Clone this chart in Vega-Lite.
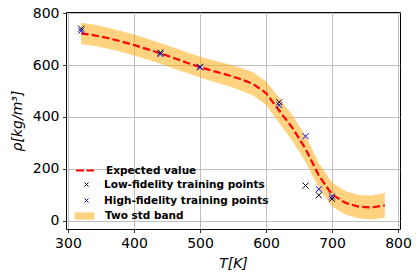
{
  "$schema": "https://vega.github.io/schema/vega-lite/v6.json",
  "width": 334,
  "height": 217,
  "autosize": "none",
  "padding": {"left": 66, "top": 12, "right": 18, "bottom": 50},
  "background": "white",
  "config": {
    "view": {"stroke": "black", "strokeWidth": 1},
    "font": "DejaVu Sans",
    "axis": {
      "domain": false, "grid": true, "gridColor": "#b0b0b0", "gridWidth": 0.8,
      "tickColor": "black", "tickSize": 3.5, "tickWidth": 0.8,
      "labelFontSize": 14, "labelColor": "black", "labelPadding": 3.5,
      "titleFontSize": 14, "titleFontWeight": "normal", "titleFontStyle": "italic", "titleColor": "black",
      "labelFlush": false, "labelOverlap": false
    },
    "legend": {
      "title": null, "orient": "none", "legendX": 12.5, "symbolSize": 100,
      "labelFontSize": 10.5, "labelFontWeight": "bold", "labelColor": "black", "labelFont": "DejaVu Sans",
      "labelOffset": 14.5, "labelLimit": 400, "padding": 0
    }
  },
  "datasets": {
    "curve": [
      {"T": 320, "mean": 722, "lo": 681, "hi": 763},
      {"T": 340, "mean": 714, "lo": 673, "hi": 755},
      {"T": 360, "mean": 704, "lo": 664, "hi": 744},
      {"T": 380, "mean": 691, "lo": 651, "hi": 731},
      {"T": 400, "mean": 677, "lo": 637, "hi": 717},
      {"T": 420, "mean": 661, "lo": 621, "hi": 701},
      {"T": 440, "mean": 645, "lo": 605, "hi": 685},
      {"T": 460, "mean": 627, "lo": 587, "hi": 667},
      {"T": 480, "mean": 609, "lo": 569, "hi": 649},
      {"T": 500, "mean": 592, "lo": 552, "hi": 632},
      {"T": 520, "mean": 577, "lo": 536, "hi": 618},
      {"T": 540, "mean": 563, "lo": 521, "hi": 605},
      {"T": 560, "mean": 547, "lo": 504, "hi": 590},
      {"T": 580, "mean": 528, "lo": 484, "hi": 572},
      {"T": 600, "mean": 492, "lo": 446, "hi": 538},
      {"T": 620, "mean": 425, "lo": 377, "hi": 473},
      {"T": 640, "mean": 358, "lo": 308, "hi": 408},
      {"T": 660, "mean": 277, "lo": 227, "hi": 327},
      {"T": 680, "mean": 175, "lo": 127, "hi": 223},
      {"T": 700, "mean": 102, "lo": 56, "hi": 148},
      {"T": 720, "mean": 70, "lo": 25, "hi": 115},
      {"T": 740, "mean": 55, "lo": 10, "hi": 100},
      {"T": 760, "mean": 52, "lo": 6, "hi": 98},
      {"T": 780, "mean": 60, "lo": 12, "hi": 108}
    ],
    "low": [
      {"T": 320, "rho": 740, "series": "Low-fidelity training points"},
      {"T": 440, "rho": 648, "series": "Low-fidelity training points"},
      {"T": 500, "rho": 593, "series": "Low-fidelity training points"},
      {"T": 620, "rho": 457, "series": "Low-fidelity training points"},
      {"T": 660, "rho": 136, "series": "Low-fidelity training points"},
      {"T": 680, "rho": 99, "series": "Low-fidelity training points"},
      {"T": 700, "rho": 85, "series": "Low-fidelity training points"}
    ],
    "high": [
      {"T": 320, "rho": 732, "series": "High-fidelity training points"},
      {"T": 440, "rho": 642, "series": "High-fidelity training points"},
      {"T": 500, "rho": 591, "series": "High-fidelity training points"},
      {"T": 620, "rho": 446, "series": "High-fidelity training points"},
      {"T": 660, "rho": 326, "series": "High-fidelity training points"},
      {"T": 680, "rho": 122, "series": "High-fidelity training points"},
      {"T": 700, "rho": 94, "series": "High-fidelity training points"}
    ]
  },
  "resolve": {"scale": {"color": "independent"}, "legend": {"color": "independent"}},
  "layer": [
    {
      "data": {"name": "curve"},
      "mark": {"type": "area", "opacity": 0.5},
      "encoding": {
        "x": {"field": "T", "type": "quantitative", "scale": {"domain": [297, 803], "nice": false, "zero": false},
              "axis": {"values": [300, 400, 500, 600, 700, 800], "title": "T[K]", "titlePadding": 6}},
        "y": {"field": "lo", "type": "quantitative", "scale": {"domain": [-31, 804], "nice": false, "zero": false},
              "axis": {"values": [0, 100, 200, 300, 400, 500, 600, 700, 800], "title": "ρ[kg/m³]", "titlePadding": 8}},
        "y2": {"field": "hi"},
        "color": {
          "datum": "Two std band",
          "scale": {"domain": ["Two std band"], "range": ["#ffa500"]},
          "legend": {"legendY": 198, "symbolType": "M-2,-0.72H2V0.72H-2Z"}
        }
      }
    },
    {
      "data": {"name": "curve"},
      "mark": {"type": "line", "strokeWidth": 2.2, "strokeDash": [7.4, 3.2]},
      "encoding": {
        "x": {"field": "T", "type": "quantitative"},
        "y": {"field": "mean", "type": "quantitative"},
        "color": {
          "datum": "Expected value",
          "scale": {"domain": ["Expected value"], "range": ["red"]},
          "legend": {"legendY": 152, "symbolType": "M-1.8,0H1.8", "symbolDash": [8, 2.5], "symbolStrokeWidth": 2.2}
        }
      }
    },
    {
      "data": {"name": "low"},
      "mark": {"type": "point", "shape": "M-1,-1L1,1M-1,1L1,-1", "size": 36, "filled": false, "strokeWidth": 1, "opacity": 1},
      "encoding": {
        "x": {"field": "T", "type": "quantitative"},
        "y": {"field": "rho", "type": "quantitative"},
        "color": {
          "field": "series", "type": "nominal",
          "scale": {"domain": ["Low-fidelity training points"], "range": ["black"]},
          "legend": {"legendY": 167, "symbolType": "M0.1,-0.4L0.9,0.4M0.1,0.4L0.9,-0.4", "symbolStrokeWidth": 1}
        }
      }
    },
    {
      "data": {"name": "high"},
      "mark": {"type": "point", "shape": "M-1,-1L1,1M-1,1L1,-1", "size": 36, "filled": false, "strokeWidth": 1, "opacity": 1},
      "encoding": {
        "x": {"field": "T", "type": "quantitative"},
        "y": {"field": "rho", "type": "quantitative"},
        "color": {
          "field": "series", "type": "nominal",
          "scale": {"domain": ["High-fidelity training points"], "range": ["blue"]},
          "legend": {"legendY": 183, "symbolType": "M0.1,-0.4L0.9,0.4M0.1,0.4L0.9,-0.4", "symbolStrokeWidth": 1}
        }
      }
    }
  ]
}
